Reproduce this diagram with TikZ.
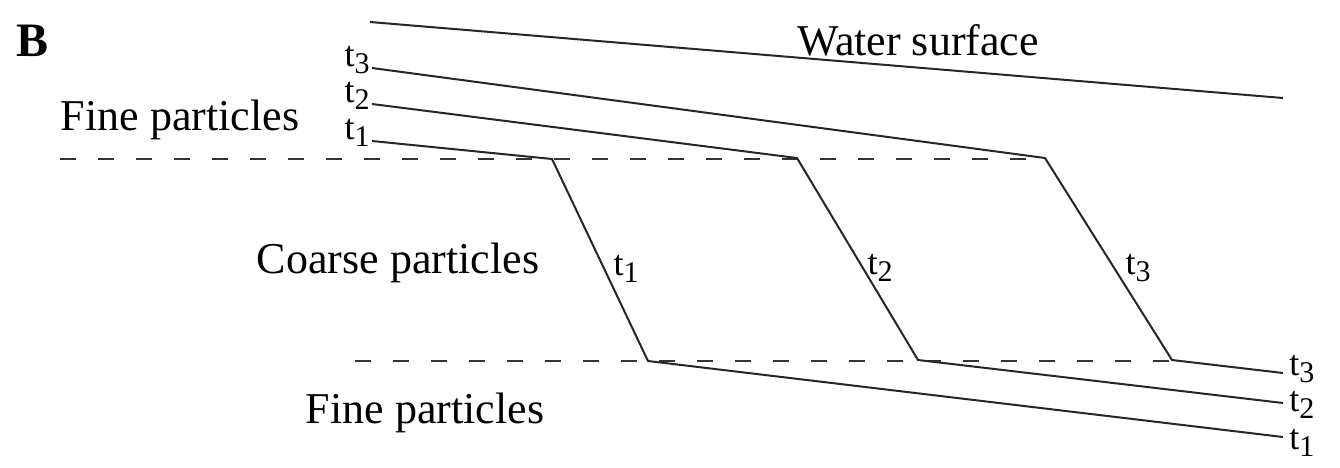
\documentclass[tikz,border=0pt]{standalone}
\usepackage{fontspec}
\setmainfont{Liberation Serif}
\usepackage{tikz}
\usetikzlibrary{positioning}

\tikzset{
  bed/.style={line width=1pt, black!85},
  boundary/.style={line width=1pt, black!80, dash pattern=on 8pt off 11pt},
  lbl/.style={font=\fontsize{22}{26}\selectfont, inner sep=0pt},
  tlbl/.style={font=\fontsize{18}{18}\selectfont, inner sep=0pt}
}
\newcommand{\tsub}[1]{t\raisebox{-0.45ex}{\fontsize{15}{15}\selectfont #1}}

\begin{document}
\begin{tikzpicture}[x=0.5pt, y=-0.5pt]
  \useasboundingbox (0,0) rectangle (1340,467);

  % --- corner points of the time lines ---
  \coordinate (wsA) at (370,22);   \coordinate (wsB) at (1283,98);
  \coordinate (a3) at (372,68);    \coordinate (b3) at (1045,158);
  \coordinate (c3) at (1172,360);  \coordinate (d3) at (1283,373);
  \coordinate (a2) at (372,104);   \coordinate (b2) at (797,158);
  \coordinate (c2) at (918,360);   \coordinate (d2) at (1283,403);
  \coordinate (a1) at (372,141);   \coordinate (b1) at (552,159);
  \coordinate (c1) at (648,361);   \coordinate (d1) at (1283,437);

  % --- boundaries between fine and coarse particles ---
  \coordinate (topL) at (60,159);   \coordinate (topR) at (1045,159);
  \coordinate (botL) at (355,361);  \coordinate (botR) at (1172,361);
  \draw[boundary] (topL) -- (topR);
  \draw[boundary] (botL) -- (botR);

  % --- water surface and time lines ---
  \draw[bed] (wsA) -- (wsB);
  \draw[bed] (a3) -- (b3) -- (c3) -- (d3);
  \draw[bed] (a2) -- (b2) -- (c2) -- (d2);
  \draw[bed] (a1) -- (b1) -- (c1) -- (d1);

  % --- labels ---
  \node[font=\fontsize{24}{28}\selectfont\bfseries, inner sep=0pt] (panel) at (33,41) {B};
  \node[lbl] (water) at (918,40) {Water surface};
  \node[lbl] (fineTop) at (180,120) {Fine particles};
  \node[lbl] (coarse) at (398,263) {Coarse particles};
  \node[lbl] (fineBot) at (425,413) {Fine particles};

  \node[tlbl, left=1pt of a3, yshift=4pt] (l3) {\tsub{3}};
  \node[tlbl, left=1pt of a2, yshift=4pt] (l2) {\tsub{2}};
  \node[tlbl, left=1pt of a1, yshift=4pt] (l1) {\tsub{1}};
  \node[tlbl, right=3pt of d3, yshift=2pt] (r3) {\tsub{3}};
  \node[tlbl, right=3pt of d2, yshift=-1pt] (r2) {\tsub{2}};
  \node[tlbl, right=3pt of d1, yshift=-3pt] (r1) {\tsub{1}};
  \node[tlbl] (s1) at (626,269) {\tsub{1}};
  \node[tlbl] (s2) at (880,268) {\tsub{2}};
  \node[tlbl] (s3) at (1138,268) {\tsub{3}};
\end{tikzpicture}
\end{document}
